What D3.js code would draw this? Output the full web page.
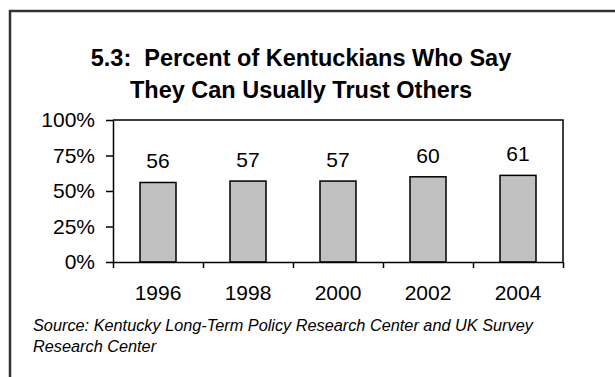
<!DOCTYPE html>
<html>
<head>
<meta charset="utf-8">
<script src="https://cdn.jsdelivr.net/npm/d3@7"></script>
<style>
  body { margin: 0; background: white; }
  text { font-family: "Liberation Sans", Arial, sans-serif; }
</style>
</head>
<body>
<div id="canvas"></div>
<script>
var w = 615;
var h = 377;

// data
var years = ["1996", "1998", "2000", "2002", "2004"];
var trust = [56, 57, 57, 60, 61];
var yTicks = [0, 25, 50, 75, 100];
var titleLines = ["5.3:  Percent of Kentuckians Who Say", "They Can Usually Trust Others"];
var sourceLines = ["Source: Kentucky Long-Term Policy Research Center and UK Survey", "Research Center"];

var plot = {left: 113, right: 563, top: 120, bottom: 262};

var svg = d3.select("#canvas").append("svg")
  .attr("width", w)
  .attr("height", h)
  .style("background-color", "white");

// outer frame (runs off the right and bottom edges)
svg.append("rect")
  .attr("x", 10)
  .attr("y", 11)
  .attr("width", w + 20)
  .attr("height", h + 20)
  .attr("fill", "none")
  .attr("stroke", "#333")
  .attr("stroke-width", 2.5);

// title
svg.selectAll(".title")
  .data(titleLines)
  .join("text")
  .attr("class", "title")
  .attr("x", 301)
  .attr("y", function(d, i) { return 66 + i * 32; })
  .attr("text-anchor", "middle")
  .style("font-size", "23.5px")
  .style("font-weight", "bold")
  .style("white-space", "pre")
  .attr("fill", "black")
  .text(function(d) { return d; });

var xScale = d3.scaleBand()
  .domain(years)
  .range([plot.left, plot.right])
  .paddingInner(0.6)
  .paddingOuter(0.3);

var yScale = d3.scaleLinear()
  .domain([0, 100])
  .range([plot.bottom, plot.top]);

// category boundaries for the x ticks
var edgeScale = d3.scaleLinear()
  .domain([0, years.length])
  .range([plot.left, plot.right]);

// top and right border of the plot
svg.append("path")
  .attr("d", "M" + plot.left + "," + plot.top + "H" + plot.right + "V" + plot.bottom)
  .attr("fill", "none")
  .attr("stroke", "black")
  .attr("stroke-width", 1.5);

// bars
svg.selectAll(".bar")
  .data(trust)
  .join("rect")
  .attr("class", "bar")
  .attr("x", function(d, i) { return xScale(years[i]); })
  .attr("y", function(d) { return yScale(d); })
  .attr("width", xScale.bandwidth())
  .attr("height", function(d) { return yScale(0) - yScale(d); })
  .attr("fill", "#c0c0c0")
  .attr("stroke", "black")
  .attr("stroke-width", 1.5);

// value labels
svg.selectAll(".val")
  .data(trust)
  .join("text")
  .attr("class", "val")
  .attr("x", function(d, i) { return xScale(years[i]) + xScale.bandwidth() / 2; })
  .attr("y", function(d) { return yScale(d) - 14; })
  .attr("text-anchor", "middle")
  .style("font-size", "21px")
  .attr("fill", "black")
  .text(function(d) { return d; });

// y axis
var yAxis = svg.append("g")
  .attr("transform", "translate(" + plot.left + ",0)")
  .call(d3.axisLeft(yScale)
    .tickValues(yTicks)
    .tickFormat(function(d) { return d + "%"; })
    .tickSize(7)
    .tickSizeOuter(0)
    .tickPadding(11));

// x axis: boundary ticks
var xAxis = svg.append("g")
  .attr("transform", "translate(0," + plot.bottom + ")")
  .call(d3.axisBottom(edgeScale)
    .tickValues(d3.range(years.length + 1))
    .tickFormat("")
    .tickSize(6)
    .tickSizeOuter(0));

// x axis: year labels
var xLabels = svg.append("g")
  .attr("transform", "translate(0," + plot.bottom + ")")
  .call(d3.axisBottom(xScale).tickSize(0).tickPadding(23));
xLabels.select(".domain").remove();

svg.selectAll(".tick text")
  .style("font-size", "21px")
  .style("font-family", "'Liberation Sans', Arial, sans-serif")
  .attr("fill", "black");
svg.selectAll(".domain, .tick line")
  .attr("stroke", "black")
  .attr("stroke-width", 1.5);

// source note
svg.selectAll(".source")
  .data(sourceLines)
  .join("text")
  .attr("class", "source")
  .attr("x", 33)
  .attr("y", function(d, i) { return 331 + i * 21; })
  .style("font-size", "16.3px")
  .style("font-style", "italic")
  .attr("fill", "black")
  .text(function(d) { return d; });
</script>
</body>
</html>
